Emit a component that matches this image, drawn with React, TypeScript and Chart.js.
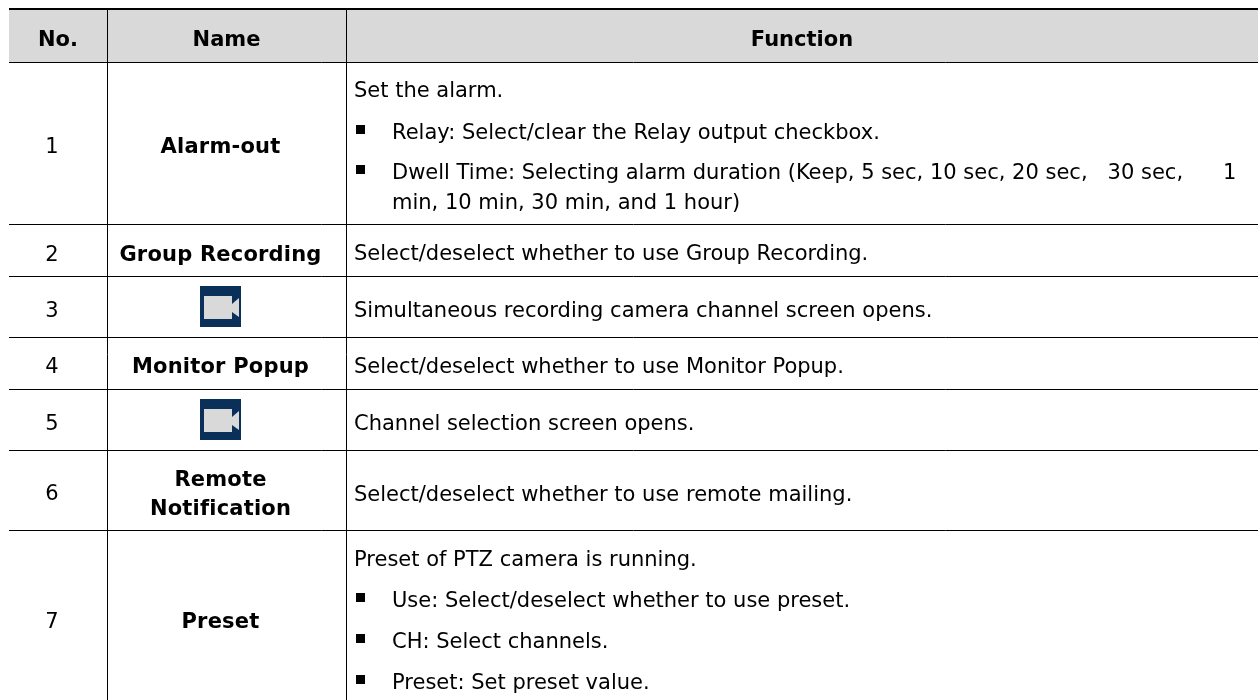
import React, { useEffect, useRef } from "react";
import { Chart, registerables } from "chart.js";

Chart.register(...registerables);

const headers = ["No.", "Name", "Function"];
const rowNumbers = ["1", "2", "3", "4", "5", "6", "7"];
const rowNames: (string[] | null)[] = [
  ["Alarm-out"],
  ["Group Recording"],
  null,
  ["Monitor Popup"],
  null,
  ["Remote", "Notification"],
  ["Preset"],
];
// "• " marks a bulleted line, "  " a continuation line.
const rowFunctions: string[][] = [
  [
    "Set the alarm.",
    "• Relay: Select/clear the Relay output checkbox.",
    "• Dwell Time: Selecting alarm duration (Keep, 5 sec, 10 sec, 20 sec,   30 sec,      1",
    "  min, 10 min, 30 min, and 1 hour)",
  ],
  ["Select/deselect whether to use Group Recording."],
  ["Simultaneous recording camera channel screen opens."],
  ["Select/deselect whether to use Monitor Popup."],
  ["Channel selection screen opens."],
  ["Select/deselect whether to use remote mailing."],
  [
    "Preset of PTZ camera is running.",
    "• Use: Select/deselect whether to use preset.",
    "• CH: Select channels.",
    "• Preset: Set preset value.",
  ],
];
const columnEdges = [9, 107, 346, 1258];
const rowEdges = [9, 62, 224, 276, 337, 389, 450, 530, 700];
const functionBaselines: number[][] = [
  [97, 139, 179, 209],
  [260],
  [317],
  [373],
  [430],
  [501],
  [566, 607, 648, 689],
];
const nameBaselines: number[][] = [[153], [260.5], [], [373], [], [486, 515], [628]];
const numberBaselines = [153, 260.5, 317, 373, 430, 500, 628];
const headerBaseline = 46;
const numberColumnX = 52;
const nameColumnX = 220.5;
const bulletX = 356;
const bulletTextX = 392;
const cellTextX = 354;

const FONT = "'DejaVu Sans', sans-serif";
const SIZE = 21;

export default function App() {
  const ref = useRef<HTMLCanvasElement>(null);
  useEffect(() => {
    document.body.style.margin = "0";
    const tablePlugin = {
      id: "table",
      beforeDatasetsDraw(chart: any) {
        const { ctx, scales } = chart;
        const X = (v: number) => scales.x.getPixelForValue(v);
        const Y = (v: number) => scales.y.getPixelForValue(v);
        ctx.save();
        ctx.fillStyle = "#d9d9d9";
        ctx.fillRect(X(columnEdges[0]), Y(rowEdges[0]), X(columnEdges[3]) - X(columnEdges[0]), Y(rowEdges[1]) - Y(rowEdges[0]));
        ctx.strokeStyle = "#000";
        ctx.lineWidth = 1;
        [columnEdges[1], columnEdges[2]].forEach((c) => {
          ctx.beginPath();
          ctx.moveTo(Math.floor(X(c)) + 0.5, Y(rowEdges[0]));
          ctx.lineTo(Math.floor(X(c)) + 0.5, Y(rowEdges[1]));
          ctx.stroke();
        });
        ctx.restore();
      },
      afterDraw(chart: any) {
        const { ctx, scales } = chart;
        const X = (v: number) => scales.x.getPixelForValue(v);
        const Y = (v: number) => scales.y.getPixelForValue(v);
        ctx.save();
        ctx.fillStyle = "#000";
        ctx.fillRect(X(9), Y(8), X(1258) - X(9), 2);
        ctx.textBaseline = "alphabetic";
        ctx.textAlign = "center";
        ctx.font = `bold ${SIZE}px ${FONT}`;
        headers.forEach((h, i) => {
          ctx.fillText(h, (X(columnEdges[i]) + X(columnEdges[i + 1])) / 2, Y(headerBaseline));
        });
        rowNumbers.forEach((n, r) => {
          ctx.font = `${SIZE}px ${FONT}`;
          ctx.textAlign = "center";
          ctx.fillStyle = "#000";
          ctx.letterSpacing = "0px";
          ctx.fillText(n, X(numberColumnX), Y(numberBaselines[r]));
          const names = rowNames[r];
          if (names) {
            ctx.font = `bold ${SIZE}px ${FONT}`;
            ctx.letterSpacing = "0.2px";
            names.forEach((t, k) => {
              ctx.fillText(t, X(nameColumnX), Y(nameBaselines[r][k]));
            });
            ctx.letterSpacing = "0px";
          } else {
            const s = Y(rowEdges[r + 1]) + 10;
            const l = X(200);
            ctx.fillStyle = "#0a3059";
            ctx.fillRect(l, s, 41, 41);
            ctx.fillStyle = "#d9d9d9";
            ctx.fillRect(l + 4, s + 10, 28, 23);
            ctx.beginPath();
            ctx.moveTo(l + 32, s + 18);
            ctx.lineTo(l + 39, s + 12);
            ctx.lineTo(l + 39, s + 31);
            ctx.lineTo(l + 32, s + 26);
            ctx.closePath();
            ctx.fill();
            ctx.fillStyle = "#000";
          }
          ctx.textAlign = "left";
          ctx.font = `${SIZE}px ${FONT}`;
          rowFunctions[r].forEach((line, k) => {
            const y = Y(functionBaselines[r][k]);
            if (line.startsWith("• ")) {
              ctx.fillRect(X(bulletX), y - 14, 9, 9);
              ctx.fillText(line.slice(2), X(bulletTextX), y);
            } else if (line.startsWith("  ")) {
              ctx.fillText(line.slice(2), X(bulletTextX), y);
            } else {
              ctx.fillText(line, X(cellTextX), y);
            }
          });
        });
        ctx.restore();
      },
    };
    const chart = new Chart(ref.current!, {
      type: "scatter",
      data: { datasets: [{ data: [], pointRadius: 0 }] },
      plugins: [tablePlugin],
      options: {
        animation: false,
        responsive: false,
        events: [],
        layout: { padding: { left: columnEdges[0], top: rowEdges[0], right: 0, bottom: 0 } },
        plugins: { legend: { display: false }, tooltip: { enabled: false }, title: { display: false } },
        scales: {
          x: {
            type: "linear",
            min: columnEdges[0],
            max: columnEdges[3],
            afterBuildTicks: (s: any) => { s.ticks = columnEdges.slice(1, 3).map((value) => ({ value })); },
            ticks: { display: false },
            border: { display: false },
            grid: { color: "#000", lineWidth: 1, drawTicks: false },
          },
          y: {
            type: "linear",
            reverse: true,
            min: rowEdges[0],
            max: rowEdges[rowEdges.length - 1],
            afterBuildTicks: (s: any) => { s.ticks = rowEdges.slice(1, -1).map((value) => ({ value })); },
            ticks: { display: false },
            border: { display: false },
            grid: { color: "#000", lineWidth: 1, drawTicks: false },
          },
        },
      },
    } as any);
    return () => chart.destroy();
  }, []);
  return (
    <div style={{ position: "absolute", left: 0, top: 0, width: 1258, height: 700 }}>
      <canvas ref={ref} width={1258} height={700} style={{ display: "block" }} />
    </div>
  );
}
